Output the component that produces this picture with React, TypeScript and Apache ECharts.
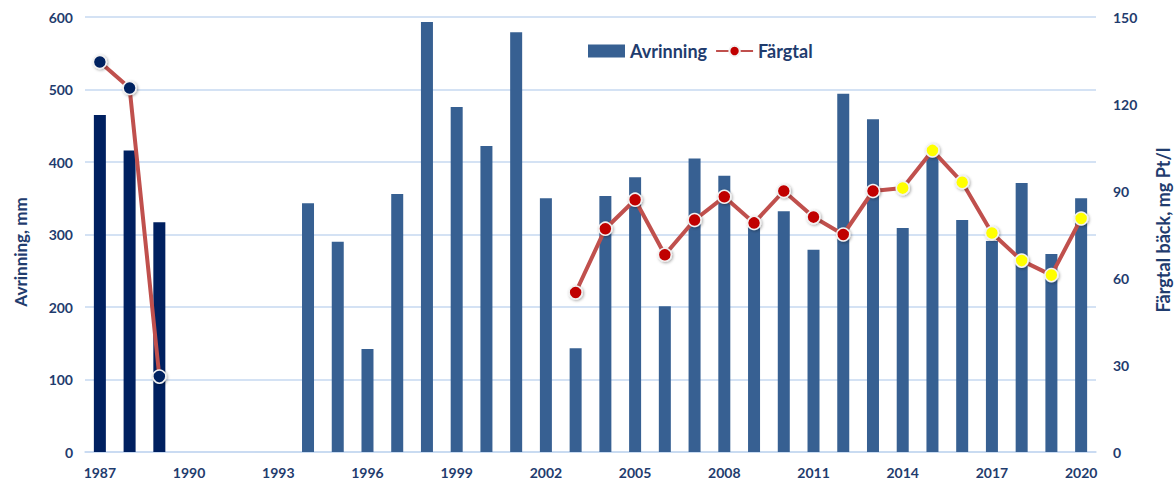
import React, { useEffect, useRef } from "react";
import * as echarts from "echarts";

const years: string[] = [];
for (let y = 1987; y <= 2020; y++) years.push(String(y));

// Avrinning, mm (left axis)
const avrinning: (number | null)[] = [
  465, 416, 317, null, null, null, null, 343, 290, 142, 356, 593, 476, 422, 579,
  350, 143, 353, 379, 201, 405, 381, 320, 332, 279, 494, 459, 309, 410, 320, 291,
  371, 273, 350,
];

// Färgtal, mg Pt/l (right axis)
const fargtal: (number | null)[] = [
  134.5, 125.5, 26, null, null, null, null, null, null, null, null, null, null, null,
  null, null, 55, 77, 87, 68, 80, 88, 79, 90, 81, 75, 90, 91, 104, 93, 75.5, 66,
  61, 80.5,
];

const darkYears = ["1987", "1988", "1989"];
const yellowFrom = 2014;

const leftName = "Avrinning, mm";
const rightName = "Färgtal bäck, mg Pt/l";

const NAVY = "#002060";
const BAR = "#376092";
const LINE = "#c0504d";
const RED = "#c00000";
const YELLOW = "#ffff00";
const TXT = "#1f3c6e";
const FONT = "Lato, 'Noto Sans', sans-serif";

export default function App() {
  const ref = useRef<HTMLDivElement>(null);
  useEffect(() => {
    document.body.style.margin = "0";
    if (!ref.current) return;
    const chart = echarts.init(ref.current, undefined, { renderer: "svg" });
    const barData = avrinning.map((v, i) =>
      v === null
        ? null
        : darkYears.includes(years[i])
        ? { value: v, itemStyle: { color: NAVY } }
        : v
    );
    const lineData = fargtal.map((v, i) => {
      if (v === null) return null;
      const yr = Number(years[i]);
      let c = RED;
      if (darkYears.includes(years[i])) c = NAVY;
      else if (yr >= yellowFrom) c = YELLOW;
      return { value: v, itemStyle: { color: c } };
    });
    chart.setOption({
      animation: false,
      textStyle: { fontFamily: FONT },
      grid: { left: 85, right: 80, top: 17, bottom: 31 },
      graphic: [
        {
          type: "text",
          x: 20,
          y: 252,
          rotation: Math.PI / 2,
          style: {
            text: leftName,
            fill: TXT,
            font: `bold 17px ${FONT}`,
            align: "center",
            verticalAlign: "middle",
          },
        },
        {
          type: "text",
          x: 1163,
          y: 230,
          rotation: Math.PI / 2,
          style: {
            text: rightName,
            fill: TXT,
            font: `bold 18px ${FONT}`,
            align: "center",
            verticalAlign: "middle",
          },
        },
      ],
      legend: {
        left: 583,
        top: 37,
        itemWidth: 37,
        itemHeight: 13,
        itemGap: 8,
        textStyle: { color: TXT, fontSize: 18, fontWeight: "bold", fontFamily: FONT },
        data: [
          { name: "Avrinning", icon: "rect" },
          { name: "Färgtal" },
        ],
      },
      xAxis: {
        type: "category",
        data: years,
        boundaryGap: true,
        axisLine: { lineStyle: { color: "#c6d9f1", width: 1.5 } },
        axisTick: { show: false },
        axisLabel: {
          interval: 2,
          color: TXT,
          fontWeight: "bold",
          fontSize: 14,
          margin: 13,
          fontFamily: FONT,
        },
      },
      yAxis: [
        {
          type: "value",
          min: 0,
          max: 600,
          interval: 100,
          axisLine: { show: false },
          axisTick: { show: false },
          axisLabel: { color: TXT, fontWeight: "bold", fontSize: 14, margin: 12, fontFamily: FONT },
          splitLine: { lineStyle: { color: "#c6d9f1", width: 1.5 } },
        },
        {
          type: "value",
          min: 0,
          max: 150,
          interval: 30,
          axisLine: { show: false },
          axisTick: { show: false },
          axisLabel: { color: TXT, fontWeight: "bold", fontSize: 14, margin: 17, fontFamily: FONT },
          splitLine: { show: false },
        },
      ],
      series: [
        {
          name: "Avrinning",
          type: "bar",
          data: barData,
          barWidth: 12,
          itemStyle: { color: BAR },
          yAxisIndex: 0,
        },
        {
          name: "Färgtal",
          type: "line",
          yAxisIndex: 1,
          data: lineData,
          connectNulls: false,
          symbol: "circle",
          symbolSize: 13,
          lineStyle: { color: LINE, width: 4 },
          itemStyle: {
            color: RED,
            borderColor: "#f2f2f2",
            borderWidth: 1.5,
            shadowBlur: 3,
            shadowColor: "rgba(0,0,0,0.35)",
            shadowOffsetX: 1,
            shadowOffsetY: 1,
          },
        },
      ],
    });
    return () => chart.dispose();
  }, []);
  return <div ref={ref} style={{ width: 1176, height: 483 }} />;
}
